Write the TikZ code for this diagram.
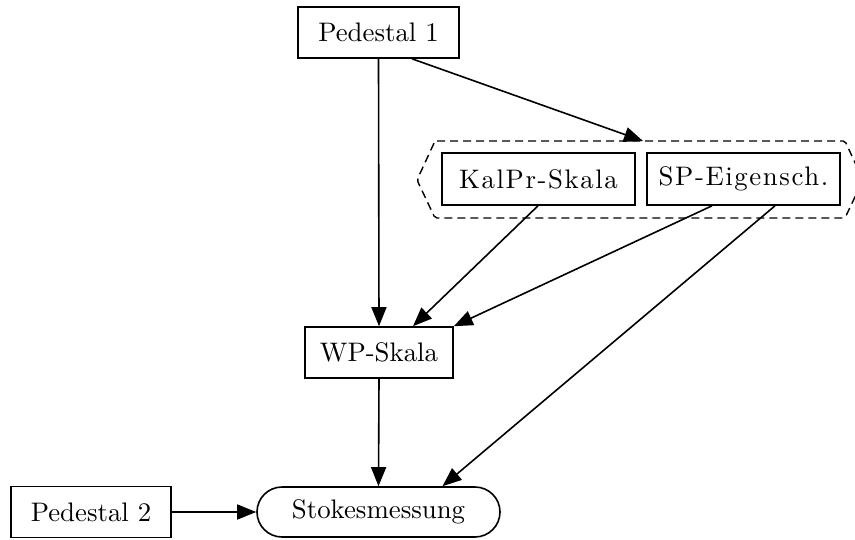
\documentclass[tikz,border=0pt]{standalone}
\usepackage{fontspec}
\setmainfont{lmroman10-regular.otf}
\usetikzlibrary{arrows.meta}
\begin{document}
\begin{tikzpicture}[x=1pt,y=-1pt,
  every node/.style={font=\fontsize{26.8}{31}\selectfont},
  box/.style={draw, line width=1.6pt, inner sep=0pt, minimum height=51pt},
  pill/.style={box, rounded corners=25pt},
  spaced/.style={font=\fontsize{26.8}{31}\selectfont\addfontfeature{LetterSpace=6}},
  flow/.style={line width=1.6pt, -{Triangle[length=19pt,width=15pt]}},
  group/.style={draw, line width=1.4pt, dash pattern=on 8pt off 5pt, rounded corners=2pt}]
\useasboundingbox (0,0) rectangle (855,539);

% processing steps
\node[box, minimum width=161pt] (p1) at (378.5,32.5) {Pedestal 1};
\node[box, minimum width=148pt] (wp) at (379,352.5) {WP-Skala};
\node[box, spaced, minimum width=193pt, minimum height=52pt] (kal) at (538.5,179) {KalPr-Skala};
\node[box, spaced, minimum width=193pt, minimum height=52pt] (sp) at (743.5,179) {SP-Eigensch.};
\node[pill, minimum width=243pt, minimum height=50pt] (st) at (378.5,512) {Stokesmessung};
\node[box, minimum width=160pt] (p2) at (91,512) {Pedestal 2};

% dashed hexagonal cluster around the two calibration inputs
\draw[group] (435,141) -- (845,141) -- (863,180) -- (845,218) -- (435,218) -- (417,180) -- cycle;
\coordinate (gtop) at (643,141);

% dependencies
\draw[flow] (p1.south) -- (wp.north);
\draw[flow] ([xshift=33.5pt]p1.south) -- (gtop);
\draw[flow] ([xshift=-0.5pt]kal.south) -- ([xshift=34pt]wp.north);
\draw[flow] ([xshift=-31.5pt]sp.south) -- (wp.north east);
\draw[flow] ([xshift=31.5pt]sp.south) -- ([xshift=64pt]st.north);
\draw[flow] (wp.south) -- (st.north);
\draw[flow] (p2.east) -- (st.west);
\end{tikzpicture}
\end{document}
